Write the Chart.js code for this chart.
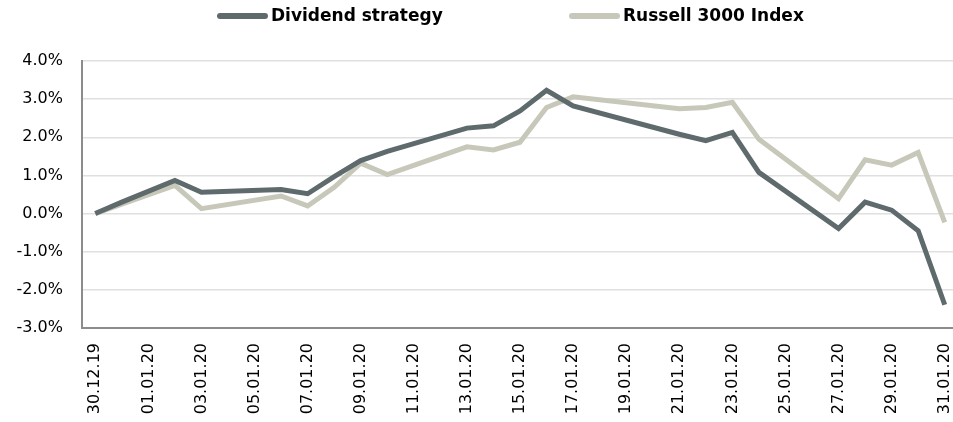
<!DOCTYPE html>
<html>
<head>
<meta charset="utf-8">
<script src="https://cdn.jsdelivr.net/npm/chart.js@4"></script>
<style>
  body { margin: 0; background: #fff; }
</style>
</head>
<body>
<canvas id="chart" width="953" height="422"></canvas>
<script>
// one category per calendar day, null on days without trading
const dates = ['30.12.19', '31.12.19', '01.01.20', '02.01.20', '03.01.20', '04.01.20', '05.01.20',
  '06.01.20', '07.01.20', '08.01.20', '09.01.20', '10.01.20', '11.01.20', '12.01.20',
  '13.01.20', '14.01.20', '15.01.20', '16.01.20', '17.01.20', '18.01.20', '19.01.20',
  '20.01.20', '21.01.20', '22.01.20', '23.01.20', '24.01.20', '25.01.20', '26.01.20',
  '27.01.20', '28.01.20', '29.01.20', '30.01.20', '31.01.20'];

const dividend = [0, 0.30, null, 0.87, 0.56, null, null,
  0.63, 0.52, 0.97, 1.39, 1.63, null, null,
  2.24, 2.30, 2.69, 3.23, 2.82, null, null,
  null, 2.08, 1.91, 2.13, 1.08, null, null,
  -0.39, 0.30, 0.09, -0.45, -2.39];

const russell = [0, 0.25, null, 0.74, 0.13, null, null,
  0.46, 0.20, 0.69, 1.32, 1.02, null, null,
  1.75, 1.67, 1.87, 2.78, 3.06, null, null,
  null, 2.75, 2.78, 2.92, 1.95, null, null,
  0.39, 1.41, 1.27, 1.60, -0.23];

const yTicks = [-3, -2, -1, 0, 1, 2, 3, 4];

const font = "'DejaVu Sans', Verdana, sans-serif";

// legend drawn by hand: short thick line, text right after it
const lineLegend = {
  id: 'lineLegend',
  afterDraw(chart) {
    const ctx = chart.ctx;
    const starts = [217, 569];
    const y = 16;
    ctx.save();
    ctx.font = 'bold 17px ' + font;
    ctx.textBaseline = 'middle';
    chart.data.datasets.forEach((ds, i) => {
      const x = starts[i];
      ctx.strokeStyle = ds.borderColor;
      ctx.lineWidth = 6;
      ctx.lineCap = 'round';
      ctx.beginPath();
      ctx.moveTo(x + 3, y);
      ctx.lineTo(x + 48, y);
      ctx.stroke();
      ctx.fillStyle = '#000';
      ctx.fillText(ds.label, x + 54, y + 1);
    });
    ctx.restore();
  }
};

// the plot area in the original runs a few pixels past the right edge
const widenArea = {
  id: 'widenArea',
  afterLayout(chart) {
    const right = 958;
    const x = chart.scales.x;
    x.right = right;
    x.width = right - x.left;
    x.configure();
    chart.chartArea.right = right;
    chart.chartArea.width = right - chart.chartArea.left;
  }
};

new Chart(document.getElementById('chart'), {
  type: 'line',
  data: {
    labels: dates,
    datasets: [{
      label: 'Dividend strategy',
      data: dividend,
      borderColor: '#5f6a6d',
      backgroundColor: '#5f6a6d',
      borderWidth: 5,
      pointRadius: 0,
      spanGaps: true,
      tension: 0
    }, {
      label: 'Russell 3000 Index',
      data: russell,
      borderColor: '#c8c8ba',
      backgroundColor: '#c8c8ba',
      borderWidth: 5,
      pointRadius: 0,
      spanGaps: true,
      tension: 0
    }]
  },
  options: {
    responsive: false,
    animation: false,
    layout: { padding: { top: 61, right: 0, left: 0, bottom: 4 } },
    plugins: {
      tooltip: { enabled: false },
      legend: { display: false }
    },
    scales: {
      x: {
        offset: true,
        grid: { display: false, drawTicks: false },
        border: { display: true, color: '#8c8c8c', width: 2 },
        afterFit(scale) {
          scale.height = 90;
          scale.paddingLeft = 0;
          scale.paddingRight = 0;
        },
        ticks: {
          color: '#000',
          font: { family: font, size: 16 },
          autoSkip: false,
          minRotation: 90,
          maxRotation: 90,
          padding: 15,
          callback(value, index) {
            return index % 2 === 0 ? dates[index] : '';
          }
        }
      },
      y: {
        min: -3,
        max: 4,
        afterFit(scale) { scale.width = 82; },
        afterBuildTicks(scale) { scale.ticks = yTicks.map(v => ({ value: v })); },
        grid: { color: '#e0e0e0', lineWidth: 1.5, drawTicks: false },
        border: { display: true, color: '#8c8c8c', width: 2 },
        ticks: {
          color: '#000',
          font: { family: font, size: 16 },
          padding: 19,
          callback(value) { return value.toFixed(1) + '%'; }
        }
      }
    }
  },
  plugins: [lineLegend, widenArea]
});
</script>
</body>
</html>
